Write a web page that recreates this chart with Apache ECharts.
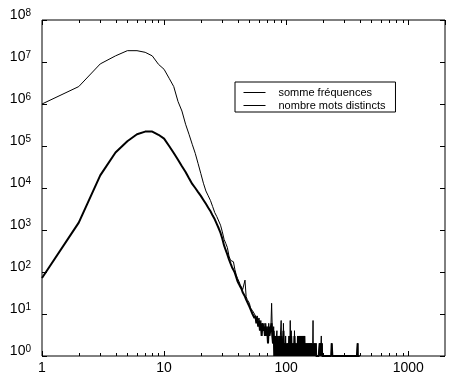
<!DOCTYPE html>
<html>
<head>
<meta charset="utf-8">
<script src="https://cdn.jsdelivr.net/npm/echarts@6/dist/echarts.min.js"></script>
<style>
html,body{margin:0;padding:0;background:#fff;}
#chart{width:456px;height:383px;}
</style>
</head>
<body>
<div id="chart"></div>
<script>
// x: integer positions (word length), sparse in the far tail
const xValues = [
  1,2,3,4,5,6,7,8,9,10,
  11,12,13,14,15,16,17,18,19,20,
  21,22,23,24,25,26,27,28,29,30,
  31,32,33,34,35,36,37,38,39,40,
  41,42,43,44,45,46,47,48,49,50,
  51,52,53,54,55,56,57,58,59,60,
  61,62,63,64,65,66,67,68,69,70,
  71,72,73,74,75,76,77,78,79,80,
  81,82,83,84,85,86,87,88,89,90,
  91,92,93,94,95,96,97,98,99,100,
  101,102,103,104,105,106,107,108,109,110,
  111,112,113,114,115,116,117,118,119,120,
  121,122,123,124,125,126,127,128,129,130,
  131,132,133,134,135,136,137,138,139,140,
  141,142,143,144,145,146,147,148,149,150,
  151,152,153,154,155,156,157,158,159,160,
  161,162,163,164,165,166,167,168,169,170,
  171,172,173,174,175,176,177,178,179,180,
  181,182,183,184,185,186,187,188,189,190,
  191,192,193,194,195,196,197,198,199,200,
  210,234,236,237,238,239,380,385,386,400
];
// "somme fréquences"
const freqValues = [
  1e6,2.6e6,9e6,1.4e7,1.86e7,1.86e7,1.7e7,1.4e7,8.8e6,6.7e6,
  4.1e6,2.6e6,1.15e6,6.8e5,3.3e5,1.9e5,1.1e5,6.7e4,3.8e4,2.2e4,
  1.3e4,8.5e3,6.5e3,5e3,3.6e3,2.6e3,2.1e3,1.9e3,1.3e3,900,
  600,480,380,240,190,175,175,115,85,70,
  60,50,45,38,40,64,26,22,20,18,
  14,15,12,12,10,10,8,9,7,8,
  5,7,4,6,5,6,3,6,4,5,
  3,6,3,4,5,18,4,2,5,1,
  3,2,2,4,1,3,1,3,2,2,
  7,1,2,1,6,1,2,1,3,1,
  1,2,1,2,1,3,1,7,1,4,
  1,2,1,1,2,1,4,1,1,2,
  1,1,2,1,3,1,2,1,3,2,
  1,3,1,2,3,1,2,3,1,2,
  3,1,2,1,1,2,1,1,2,1,
  1,2,1,1,2,1,1,2,1,1,
  2,1,1,1,2,7,1,1,1,2,
  1,1,1,1,2,1,1,1,1,1,
  1,1,1,1,1,1,1,2,1,1,
  2,1,2,3,1,2,1,1,1,1,
  1,1,2,2,2,1,1,2,1,1
];
// "nombre mots distincts"
const distinctValues = [
  72,1500,2e4,7e4,1.3e5,1.9e5,2.2e5,2.2e5,1.85e5,1.5e5,
  1e5,6.8e4,4.7e4,3.3e4,2.4e4,1.7e4,1.25e4,1e4,8e3,6.5e3,
  5.2e3,4.2e3,3.4e3,2.8e3,2.2e3,1.8e3,1.4e3,1.1e3,850,620,
  430,330,260,200,160,130,112,95,75,60,
  52,45,40,33,30,26,22,20,17,15,
  13,12,10,11,8,9,6,8,5,7,
  4,6,3,6,4,5,3,5,3,4,
  2,5,3,4,5,6,3,2,4,1,
  3,1,2,3,1,2,1,3,1,2,
  3,1,2,1,4,1,2,1,2,1,
  1,2,1,2,1,3,1,2,1,3,
  1,2,1,1,2,1,3,1,1,2,
  1,1,2,1,3,1,2,1,3,2,
  1,3,1,2,3,1,2,3,1,2,
  3,1,2,1,1,2,1,1,2,1,
  1,2,1,1,2,1,1,2,1,1,
  2,1,1,1,2,2,1,1,1,2,
  1,1,1,1,2,1,1,1,1,1,
  1,1,1,1,1,1,1,2,1,1,
  2,1,2,2,1,2,1,1,1,1,
  1,1,2,2,2,1,1,2,1,1
];
const seriesNames = ['somme fréquences', 'nombre mots distincts'];
const xLabelValues = [1, 10, 100, 1000];
const minorTickValues = [2,3,4,5,6,7,8,9,20,30,40,50,60,70,80,90,200,300,400,500,600,700,800,900];

const FONT = '"Liberation Sans", Arial, Helvetica, sans-serif';
const chart = echarts.init(document.getElementById('chart'), null, {renderer: 'canvas'});

function isPow10(v) {
  const e = Math.log10(v);
  return Math.abs(e - Math.round(e)) < 1e-6;
}

const xCommon = {
  type: 'log', logBase: 10, min: 1, max: 2000,
  splitLine: {show: false},
  axisLine: {show: false},
  axisTick: {show: true, inside: true, length: 5, lineStyle: {color: '#000', width: 1}},
  minorTick: {show: false}
};
const yCommon = {
  type: 'log', logBase: 10, min: 1, max: 1e8,
  splitLine: {show: false},
  axisLine: {show: false},
  axisTick: {show: true, inside: true, length: 5, lineStyle: {color: '#000', width: 1}},
  minorTick: {show: false}
};

const option = {
  animation: false,
  backgroundColor: '#fff',
  grid: {left: 42, right: 11, top: 20, bottom: 27, show: true, borderColor: '#000', borderWidth: 1, backgroundColor: 'transparent'},
  xAxis: [
    Object.assign({}, xCommon, {
      position: 'bottom',
      axisLabel: {
        show: true, margin: 5, color: '#000', fontSize: 14, fontFamily: FONT,
        showMaxLabel: false,
        formatter: function (v) {
          return (xLabelValues.indexOf(Math.round(v)) >= 0 && isPow10(v)) ? String(Math.round(v)) : '';
        }
      }
    }),
    Object.assign({}, xCommon, {position: 'top', axisLabel: {show: false}})
  ],
  yAxis: [
    Object.assign({}, yCommon, {
      position: 'left',
      axisLabel: {
        show: true, margin: 11, color: '#000', fontFamily: FONT,
        formatter: function (v) {
          return '{b|10}{s|' + Math.round(Math.log10(v)) + '}';
        },
        rich: {
          b: {fontSize: 14, lineHeight: 23, verticalAlign: 'top', fontFamily: FONT, color: '#000'},
          s: {fontSize: 10, lineHeight: 10, verticalAlign: 'top', padding: [0, 0, 18, 0], fontFamily: FONT, color: '#000'}
        }
      }
    }),
    Object.assign({}, yCommon, {position: 'right', axisLabel: {show: false}})
  ],
  legend: {
    show: true,
    orient: 'vertical',
    left: 235, top: 82,
    padding: [5, 10, 1, 8],
    itemGap: 2, itemWidth: 22, itemHeight: 10,
    borderColor: '#000', borderWidth: 1, borderRadius: 0,
    backgroundColor: '#fff',
    data: seriesNames,
    itemStyle: {opacity: 0},
    lineStyle: {width: 1, color: '#000', opacity: 1},
    textStyle: {fontSize: 11, lineHeight: 10, color: '#000', fontFamily: FONT, padding: [0, 0, 0, 8]}
  },
  series: [
    {
      name: seriesNames[0], type: 'line',
      data: xValues.map(function (x, i) { return [x, freqValues[i]]; }),
      symbol: 'none', showSymbol: false,
      lineStyle: {color: '#000', width: 1},
      itemStyle: {color: '#000'},
      z: 3
    },
    {
      name: seriesNames[1], type: 'line',
      data: xValues.map(function (x, i) { return [x, distinctValues[i]]; }),
      symbol: 'none', showSymbol: false,
      lineStyle: {color: '#000', width: 2},
      itemStyle: {color: '#000'},
      z: 3
    },
    {
      name: 'minorTicks', type: 'custom',
      coordinateSystem: 'cartesian2d',
      data: minorTickValues.map(function (v) { return [v, 1]; }),
      silent: true,
      renderItem: function (params, api) {
        const v = api.value(0);
        const pb = api.coord([v, 1]);
        const pt = api.coord([v, 1e8]);
        const xb = Math.round(pb[0]) + 0.5;
        return {
          type: 'group',
          children: [
            {type: 'line', shape: {x1: xb, y1: pb[1], x2: xb, y2: pb[1] - 3}, style: {stroke: '#000', lineWidth: 1}},
            {type: 'line', shape: {x1: xb, y1: pt[1], x2: xb, y2: pt[1] + 3}, style: {stroke: '#000', lineWidth: 1}}
          ]
        };
      },
      z: 4
    }
  ]
};
chart.setOption(option);
</script>
</body>
</html>
